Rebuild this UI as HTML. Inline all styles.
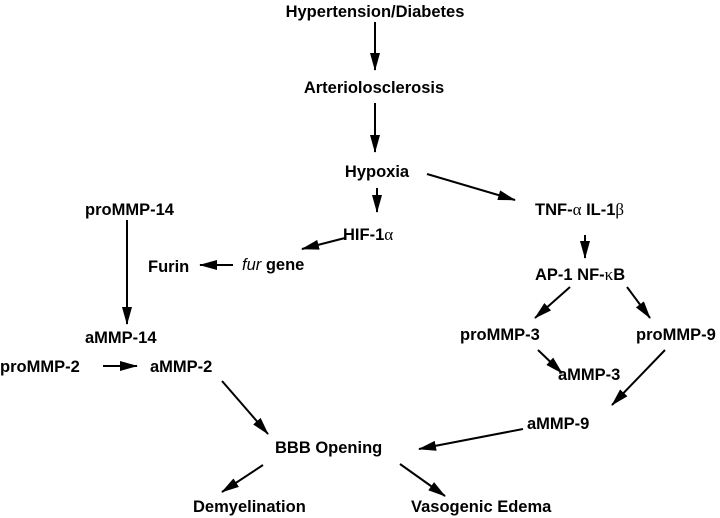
<!DOCTYPE html>
<html><head><meta charset="utf-8"><style>
html,body{margin:0;padding:0;background:#fff;}
svg{display:block}
text{font-family:"Liberation Sans",Arial,sans-serif;font-weight:bold;font-size:16.5px;fill:#000}
.g{font-family:"Liberation Serif",serif;font-weight:normal;font-size:17px}
</style></head><body>
<svg width="720" height="518" viewBox="0 0 720 518" xmlns="http://www.w3.org/2000/svg">
<defs><marker id="a" markerWidth="18" markerHeight="10" refX="17" refY="5" orient="auto" markerUnits="userSpaceOnUse"><path d="M0,0 L18,5 L0,10 Z" fill="#000"/></marker></defs>
<g stroke="#000" stroke-width="2" marker-end="url(#a)" fill="none">
<line x1="375" y1="22" x2="375" y2="70"/>
<line x1="375" y1="103" x2="375" y2="152"/>
<line x1="377" y1="188" x2="377" y2="212"/>
<line x1="427" y1="174" x2="515" y2="200"/>
<line x1="585" y1="235" x2="585" y2="258"/>
<line x1="570" y1="287" x2="535" y2="318"/>
<line x1="627" y1="287" x2="650" y2="318"/>
<line x1="538" y1="350" x2="562" y2="373"/>
<line x1="665" y1="350" x2="612" y2="405"/>
<line x1="523" y1="429" x2="419" y2="449"/>
<line x1="345" y1="238" x2="302" y2="249"/>
<line x1="233" y1="265" x2="200" y2="265"/>
<line x1="127" y1="220" x2="127" y2="324"/>
<line x1="103" y1="366" x2="137" y2="366"/>
<line x1="222" y1="381" x2="268" y2="434"/>
<line x1="263" y1="465" x2="222" y2="492"/>
<line x1="400" y1="464" x2="445" y2="496"/>
</g>
<text x="375" y="17" text-anchor="middle">Hypertension/Diabetes</text>
<text x="374" y="93" text-anchor="middle">Arteriolosclerosis</text>
<text x="377" y="177" text-anchor="middle">Hypoxia</text>
<text x="343" y="240">HIF-1<tspan class="g">α</tspan></text>
<text x="535" y="215">TNF-<tspan class="g">α</tspan>  IL-1<tspan class="g">β</tspan></text>
<text x="535" y="280">AP-1  NF-<tspan class="g">κ</tspan>B</text>
<text x="460" y="340">proMMP-3</text>
<text x="636" y="340">proMMP-9</text>
<text x="558" y="380">aMMP-3</text>
<text x="527" y="429">aMMP-9</text>
<text x="85" y="215">proMMP-14</text>
<text x="148" y="272">Furin</text>
<text x="242" y="270"><tspan font-style="italic" font-weight="normal">fur</tspan> gene</text>
<text x="85" y="343">aMMP-14</text>
<text x="0" y="372">proMMP-2</text>
<text x="150" y="372">aMMP-2</text>
<text x="275" y="453">BBB Opening</text>
<text x="193" y="512">Demyelination</text>
<text x="411" y="512">Vasogenic Edema</text>
</svg>
</body></html>
